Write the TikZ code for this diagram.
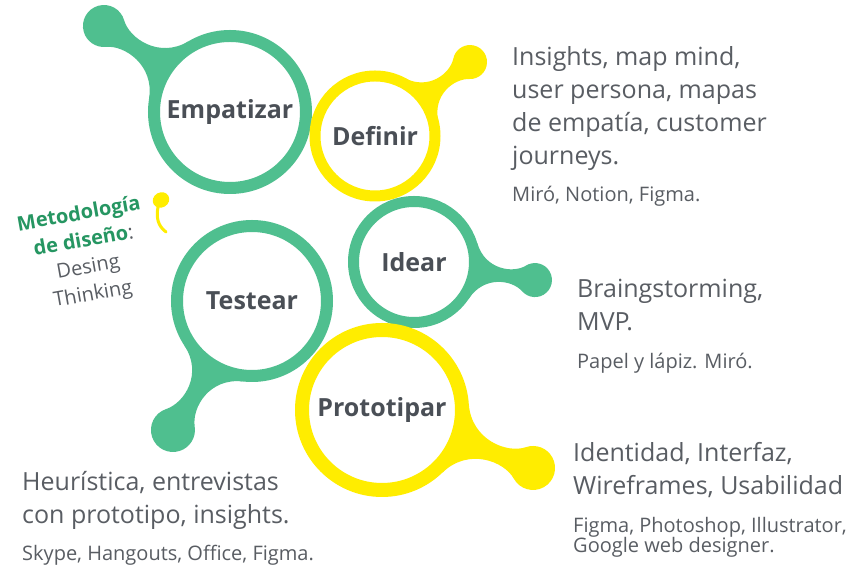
\documentclass[tikz,border=0pt]{standalone}
\usepackage{fontspec}
\setmainfont{Open Sans}
\usepackage{tikz}
\definecolor{ringgreen}{RGB}{79,191,143}
\definecolor{ringyellow}{RGB}{255,237,0}
\definecolor{labelgray}{RGB}{74,79,86}
\definecolor{textgray}{RGB}{89,93,99}
\definecolor{titlegreen}{RGB}{38,150,98}
\tikzset{
    ring/.style = {draw=#1, circle, inner sep=0pt, font=\fontsize{25}{30}\selectfont\bfseries, text=labelgray},
    body/.style = {anchor=north west, align=left, inner sep=0pt, text=textgray, font=\fontsize{25}{33}\selectfont},
    tools/.style = {anchor=north west, align=left, inner sep=0pt, text=textgray, font=\fontsize{20}{20}\selectfont}
}
% neck and bulb hanging on a ring: centre, direction, outer radius, distance, bulb radius, waist, colour
\newcommand{\bulb}[7]{%
    \pgfmathsetmacro{\bx}{#3*cos(25)}%
    \pgfmathsetmacro{\by}{#3*sin(25)}%
    \pgfmathsetmacro{\bk}{(\by-#6)/cos(25)}%
    \pgfmathsetmacro{\cx}{#4-#5*cos(50)}%
    \pgfmathsetmacro{\cy}{#5*sin(50)}%
    \pgfmathsetmacro{\ck}{(\cy-#6)/cos(50)}%
    \path[fill=#7, shift={(#1)}, rotate=#2]
        (\bx,-\by) .. controls ({\bx+\bk*sin(25)},-#6) and ({\cx-\ck*sin(50)},-#6) .. (\cx,-\cy)
        arc[start angle=-130, end angle=130, radius=#5]
        .. controls ({\cx-\ck*sin(50)},#6) and ({\bx+\bk*sin(25)},#6) .. (\bx,\by) -- cycle;
}

\begin{document}
\begin{tikzpicture}[x=1pt, y=1pt]
    \useasboundingbox[fill=white] (0, 0) rectangle (852, 567);
    % the five steps
    \node[ring=ringgreen, line width=12pt, minimum size=152pt] (emp) at (230, 455) {Empatizar};
    \node[ring=ringyellow, line width=11pt, minimum size=120pt] (def) at (375, 431) {Definir};
    \node[ring=ringgreen, line width=12pt, minimum size=150pt] (tes) at (252, 266) {Testear};
    \node[ring=ringgreen, line width=11pt, minimum size=121pt] (ide) at (414, 305) {Idear};
    \node[ring=ringyellow, line width=14pt, minimum size=160pt] (pro) at (382, 157) {Prototipar};
    \bulb{emp.center}{145.7}{82}{152.6}{21}{4}{ringgreen}
    \bulb{def.center}{37.9}{65}{120.4}{17}{3}{ringyellow}
    \bulb{tes.center}{-121.5}{81}{151.3}{22}{4}{ringgreen}
    \bulb{ide.center}{-8.5}{66}{122.3}{17}{3}{ringgreen}
    \bulb{pro.center}{-21}{87}{161.8}{22}{4}{ringyellow}
    % title
    \node[rotate=10, align=center, inner sep=0pt, text=textgray, font=\fontsize{20}{27}\selectfont] (title) at (86, 312)
        {\textcolor{titlegreen}{\bfseries Metodología}\\ \textcolor{titlegreen}{\bfseries de diseño}:\\ Desing\\ Thinking};
    \coordinate (sprout) at (158, 360);
    \path[draw=ringyellow, line width=3pt, line cap=round] (sprout) .. controls (156, 349) and (158, 341) .. (166, 335);
    \path[fill=ringyellow, rotate around={30:(161, 367)}] (161, 367) ellipse [x radius=8.5, y radius=7.5];
    % notes
    \node[body] (def-note) at (512, 521) {Insights, map mind,\\ user persona, mapas\\ de empatía, customer\\ journeys.};
    \node[tools] (def-tools) at (512, 381) {Miró, Notion, Figma.};
    \node[body] (ide-note) at (577, 288) {Braingstorming,\\ MVP.};
    \node[tools] (ide-tools) at (577, 214) {Papel y lápiz. Miró.};
    \node[body] (pro-note) at (573, 125) {Identidad, Interfaz,\\ Wireframes, Usabilidad};
    \node[tools] (pro-tools) at (573, 50) {Figma, Photoshop, Illustrator,\\ Google web designer.};
    \node[body] (tes-note) at (22, 96) {Heurística, entrevistas\\ con prototipo, insights.};
    \node[tools] (tes-tools) at (22, 22) {Skype, Hangouts, Office, Figma.};
\end{tikzpicture}
\end{document}
